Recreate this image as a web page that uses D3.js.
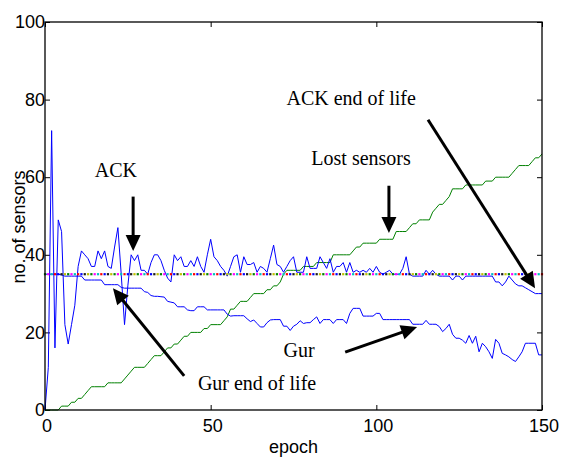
<!DOCTYPE html>
<html>
<head>
<meta charset="utf-8">
<script src="https://cdn.jsdelivr.net/npm/d3@7"></script>
<style>
  body { margin: 0; background: #fff; }
</style>
</head>
<body>
<div id="root"></div>
<script>
// Data (epochs 0..150)
const epochs = d3.range(0, 151);

const ackValues = [
  0, 11, 72, 16, 49, 46, 22, 17, 22, 27,
  37, 41, 40, 39, 37, 37, 41, 39, 41, 37,
  36.5, 42, 47, 35, 22, 32, 40, 38.5, 40, 36,
  36, 35, 38, 40, 40, 38.5, 36, 34, 33, 40,
  38.5, 39.5, 37, 37, 38.5, 37, 39.5, 37, 35.5, 40,
  44, 39.5, 38.5, 37, 36, 34.5, 37, 39.5, 40, 35.5,
  39.5, 37.5, 37.5, 38, 35.5, 37, 36.5, 35.5, 39, 42.5,
  37.5, 37, 35.5, 37, 38.5, 39.5, 35.5, 35.5, 35.5, 39.5,
  36.5, 36.5, 36.5, 39.5, 38, 36.5, 39, 35.5, 37, 37,
  38, 35.5, 38, 35.5, 36, 35.5, 36, 35.5, 36.5, 35.5,
  37, 35.5, 35, 35.5, 36, 35, 35, 35, 36.5, 39.5,
  35, 34.5, 34.5, 34.5, 34.5, 36, 35, 36, 35, 34.5,
  34.5, 34.5, 34.5, 33.5, 34.5, 34.5, 33.5, 34.5, 34.5, 34.5,
  34.5, 34.5, 34.5, 34.5, 34.5, 34.5, 33, 33, 32, 33,
  34.5, 33.5, 32.5, 32, 32, 31.5, 31, 30.5, 30, 30,
  30
];

const gurValues = [
  35, 35, 35, 35, 35, 34.8, 34.5, 34.5, 34.5, 34.5,
  34.5, 34.5, 33.5, 33.5, 33.5, 33.5, 33.5, 33.5, 32.3, 32.3,
  32.3, 32.3, 32.3, 31.6, 31.4, 31.4, 31.4, 31.4, 31.4, 31.4,
  30.5, 30.3, 29.5, 29.3, 29.3, 29.2, 29.1, 28, 27.8, 27.6,
  26.6, 26.6, 26.6, 25.8, 25.6, 25.6, 26.6, 26.6, 26.6, 25.8,
  25.8, 25.8, 25.8, 25.8, 25.8, 24.7, 24.2, 24.3, 24.3, 24.3,
  24.3, 23.5, 22.8, 23.2, 22.3, 21.4, 21.4, 22.5, 23.2, 23.3,
  23.3, 23.3, 21.6, 21.6, 20.5, 21.6, 22.1, 23, 22.3, 22.5,
  22.5, 23.3, 24, 22.3, 23.3, 23.3, 23.3, 22.3, 23.3, 23.3,
  23.3, 22.3, 24.9, 26.2, 26.2, 26.2, 24.2, 24.2, 24.2, 24.2,
  24.9, 24.9, 23.3, 23.3, 23.3, 23.3, 23.3, 23.3, 23.3, 23.3,
  23.3, 22.1, 22.1, 22.1, 22.1, 23.1, 22.1, 22.1, 22.1, 21.5,
  20.2, 21, 22.1, 19.5, 18.5, 18.5, 18, 17.2, 19.2, 17.2,
  19, 15, 17.2, 16.3, 15, 13.3, 18.2, 17.2, 14.6, 14.2,
  13.7, 13, 12.5, 13.7, 15, 17.2, 17.2, 17.2, 17.2, 14.2,
  14.2
];

const lostValues = [
  0, 0, 0, 0, 0, 1, 1, 1, 2, 2,
  3, 3, 4, 5, 6, 6, 6, 6, 6, 7,
  7, 7, 7, 7, 8, 9, 10, 11, 11, 11,
  11, 12, 13, 14, 14, 14, 15, 16, 16, 17,
  17, 18, 19, 19, 20, 20, 20, 20, 21, 21,
  22, 22, 22, 22, 23, 24, 26, 26, 27, 28,
  28, 28, 29, 30, 30, 30, 30, 31, 31, 32,
  32, 33, 35, 36, 36, 36, 36, 36, 37, 37,
  37, 37, 38, 38, 38, 38, 38, 40, 40, 40,
  40, 40, 40, 41, 42, 42, 43, 43, 43, 43,
  43, 44, 44, 44, 44, 44, 46, 46, 46, 46,
  47, 48, 48, 49, 49, 49, 49, 51, 52, 53,
  53, 54, 55, 57, 57, 57, 57, 58, 58, 58,
  58, 58, 58, 59, 59, 59, 60, 60, 60, 60,
  60, 61, 62, 63, 63, 63, 63, 64, 65, 65,
  66
];

// the other schemes all sit flat at this level (dotted)
const flatLevel = 35;
const flatColors = ["#008000", "#1a1a1a", "#ff0000", "#ff00ff", "#c0c000", "#0000ff", "#00c0c0"];

const xTicks = [0, 50, 100, 150];
const yTicks = [0, 20, 40, 60, 80, 100];

// Annotations in data coordinates
const notes = [
  { text: "ACK", x: 21.4, y: 60.0 },
  { text: "Lost sensors", x: 95.4, y: 63.1 },
  { text: "ACK end of life", x: 92.4, y: 78.6 },
  { text: "Gur end of life", x: 64.0, y: 5.2 },
  { text: "Gur", x: 76.7, y: 13.7 },
];
const arrows = [
  { x1: 26.6, y1: 55.0, x2: 26.6, y2: 41.0 },
  { x1: 103.8, y1: 57.8, x2: 103.8, y2: 45.6 },
  { x1: 115.6, y1: 74.8, x2: 147.9, y2: 31.4 },
  { x1: 42.0, y1: 8.8, x2: 20.5, y2: 31.4 },
  { x1: 90.6, y1: 14.9, x2: 112.3, y2: 21.4 },
];

// Layout
const width = 563;
const height = 460;
const margin = { top: 22, right: 21, bottom: 50, left: 45 };
const innerWidth = width - margin.left - margin.right;
const innerHeight = height - margin.top - margin.bottom;

const svg = d3
  .select("#root")
  .append("svg")
  .attr("width", width)
  .attr("height", height)
  .style("background", "#fff");

const g = svg
  .append("g")
  .attr("transform", `translate(${margin.left},${margin.top})`);

const x = d3.scaleLinear().domain([0, 150]).range([0, innerWidth]);
const y = d3.scaleLinear().domain([0, 100]).range([innerHeight, 0]);

const sansFont = "'Liberation Sans', Arial, Helvetica, sans-serif";
const serifFont = "'Liberation Serif', 'Times New Roman', Times, serif";

// Axes (MATLAB style, ticks inside)
const tick = 5;
const xAxis = g
  .append("g")
  .attr("transform", `translate(0,${innerHeight})`)
  .call(d3.axisBottom(x).tickValues(xTicks).tickSizeInner(-tick).tickSizeOuter(0).tickPadding(9));
const yAxis = g
  .append("g")
  .call(d3.axisLeft(y).tickValues(yTicks).tickSizeInner(-tick).tickSizeOuter(0).tickPadding(0));
g.append("g")
  .call(d3.axisTop(x).tickValues(xTicks).tickSizeInner(-tick).tickSizeOuter(0).tickFormat(""));
g.append("g")
  .attr("transform", `translate(${innerWidth},0)`)
  .call(d3.axisRight(y).tickValues(yTicks).tickSizeInner(-tick).tickSizeOuter(0).tickFormat(""));

g.selectAll(".domain").remove();
g.selectAll(".tick line").attr("stroke", "#000");
g.selectAll(".tick text")
  .attr("font-family", sansFont)
  .attr("font-size", 18)
  .attr("fill", "#000");
xAxis.selectAll(".tick text").attr("dx", 1.5);

// Lines
const line = d3
  .line()
  .x((d, i) => x(epochs[i]))
  .y((d) => y(d));

g.append("path")
  .datum(lostValues)
  .attr("fill", "none")
  .attr("stroke", "#008000")
  .attr("stroke-width", 1)
  .attr("d", line);

g.append("path")
  .datum(gurValues)
  .attr("fill", "none")
  .attr("stroke", "#0000ff")
  .attr("stroke-width", 1)
  .attr("d", line);

g.append("path")
  .datum(ackValues)
  .attr("fill", "none")
  .attr("stroke", "#0000ff")
  .attr("stroke-width", 1)
  .attr("d", line);

// Flat dotted schemes: one dot per epoch, colours of the overlapping lines
g.selectAll(".flat-dot")
  .data(epochs)
  .enter()
  .append("rect")
  .attr("class", "flat-dot")
  .attr("x", (d) => x(d) - 1.1)
  .attr("y", y(flatLevel) - 1.1)
  .attr("width", 2.2)
  .attr("height", 2.2)
  .attr("fill", (d, i) => flatColors[(i * 3) % flatColors.length]);

// Frame
g.append("rect")
  .attr("width", innerWidth)
  .attr("height", innerHeight)
  .attr("fill", "none")
  .attr("stroke", "#000")
  .attr("stroke-width", 1.3);

// Annotations
g.selectAll(".note")
  .data(notes)
  .enter()
  .append("text")
  .attr("class", "note")
  .attr("x", (d) => x(d.x))
  .attr("y", (d) => y(d.y))
  .attr("text-anchor", "middle")
  .attr("font-family", serifFont)
  .attr("font-size", 20)
  .attr("fill", "#000")
  .text((d) => d.text);

const headLen = 16;
const headHalf = 7.5;
arrows.forEach((a) => {
  const x1 = x(a.x1), y1 = y(a.y1), x2 = x(a.x2), y2 = y(a.y2);
  const len = Math.hypot(x2 - x1, y2 - y1);
  const ux = (x2 - x1) / len, uy = (y2 - y1) / len;
  const bx = x2 - ux * headLen, by = y2 - uy * headLen;
  g.append("line")
    .attr("x1", x1)
    .attr("y1", y1)
    .attr("x2", bx + ux * 2)
    .attr("y2", by + uy * 2)
    .attr("stroke", "#000")
    .attr("stroke-width", 3);
  g.append("path")
    .attr(
      "d",
      `M${x2},${y2}L${bx - uy * headHalf},${by + ux * headHalf}L${bx + uy * headHalf},${by - ux * headHalf}Z`
    )
    .attr("fill", "#000");
});

// Axis labels
svg.append("text")
  .attr("x", margin.left + innerWidth / 2)
  .attr("y", 453)
  .attr("text-anchor", "middle")
  .attr("font-family", sansFont)
  .attr("font-size", 18)
  .text("epoch");

svg.append("text")
  .attr("transform", `translate(25,${margin.top + innerHeight / 2 + 11}) rotate(-90)`)
  .attr("text-anchor", "middle")
  .attr("font-family", sansFont)
  .attr("font-size", 18)
  .text("no. of sensors");
</script>
</body>
</html>
